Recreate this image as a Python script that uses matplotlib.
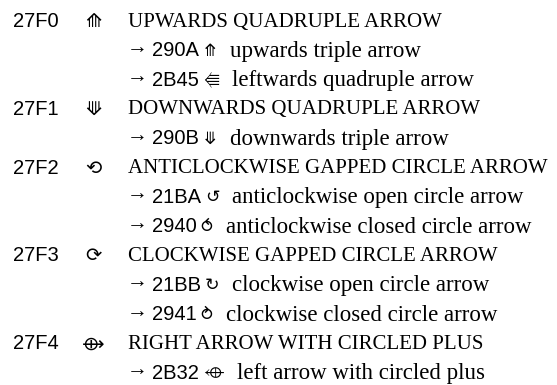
import matplotlib
matplotlib.use('Agg')
import matplotlib.pyplot as plt
from matplotlib import font_manager
from matplotlib.ft2font import FT2Font

# code chart excerpt: main entries and their cross references
codes = ['27F0', '27F1', '27F2', '27F3', '27F4']
glyphs = ['\u27F0', '\u27F1', '\u27F2', '\u27F3', '\u27F4']
names = ['UPWARDS QUADRUPLE ARROW',
         'DOWNWARDS QUADRUPLE ARROW',
         'ANTICLOCKWISE GAPPED CIRCLE ARROW',
         'CLOCKWISE GAPPED CIRCLE ARROW',
         'RIGHT ARROW WITH CIRCLED PLUS']
xref_codes = [['290A', '2B45'], ['290B'], ['21BA', '2940'], ['21BB', '2941'], ['2B32']]
xref_glyphs = [['\u290A', '\u2B45'], ['\u290B'], ['\u21BA', '\u2940'], ['\u21BB', '\u2941'], ['\u2B32']]
xref_names = [['upwards triple arrow', 'leftwards quadruple arrow'],
              ['downwards triple arrow'],
              ['anticlockwise open circle arrow', 'anticlockwise closed circle arrow'],
              ['clockwise open circle arrow', 'clockwise closed circle arrow'],
              ['left arrow with circled plus']]

# stand-ins if no installed font has the glyph: (char, rotation)
stand_in = {'\u2B45': ('\u27F0', 90), '\u2B32': ('\u27F4', 180)}

sans = ['Liberation Sans', 'DejaVu Sans']
serif = ['Liberation Serif', 'DejaVu Serif']


def family_with(ch):
    for f in font_manager.fontManager.ttflist:
        try:
            if ord(ch) in FT2Font(f.fname).get_charmap():
                return f.name
        except Exception:
            pass
    return None


def draw_glyph(ax, x, y, ch, size, ha='left'):
    fam = family_with(ch)
    rot = 0
    if fam is None and ch in stand_in:
        ch, rot = stand_in[ch]
        fam = family_with(ch)
    fams = [fam, 'DejaVu Sans'] if fam else ['DejaVu Sans']
    return ax.text(x, y, ch, family=fams, fontsize=size, ha=ha,
                   va='center_baseline', rotation=rot, rotation_mode='anchor')


fig = plt.figure(figsize=(5.57, 3.85), dpi=100)
ax = fig.add_axes([0, 0, 1, 1])
ax.set_xlim(0, 557)
ax.set_ylim(12.47, -0.666)
ax.axis('off')
r = fig.canvas.get_renderer()

row = 0
for i in range(len(codes)):
    ax.text(13, row, codes[i], family=sans, fontsize=14.5, va='center_baseline')
    draw_glyph(ax, 93, row, glyphs[i], 14, ha='center')
    ax.text(128, row, names[i], family=serif, fontsize=15, va='center_baseline')
    row += 1
    for c, g, n in zip(xref_codes[i], xref_glyphs[i], xref_names[i]):
        # the arrow glyph sits low in this font, lift it a little
        a = ax.annotate('\u2192', (127, row), xytext=(0, 2.2), textcoords='offset points',
                        family=serif, fontsize=15, va='center_baseline')
        a_end = a.get_window_extent(r).x1
        t = ax.text(a_end + 4, row, c, family=sans, fontsize=14.5, va='center_baseline')
        x_end = t.get_window_extent(r).x1
        gt = draw_glyph(ax, x_end + 4, row, g, 12.5)
        bb = gt.get_window_extent(r)
        g_end = max(bb.x1, x_end + 4 + 11)
        ax.text(g_end + 13, row, n, family=serif, fontsize=16.5, va='center_baseline')
        row += 1

plt.savefig('out.png', dpi=100)
